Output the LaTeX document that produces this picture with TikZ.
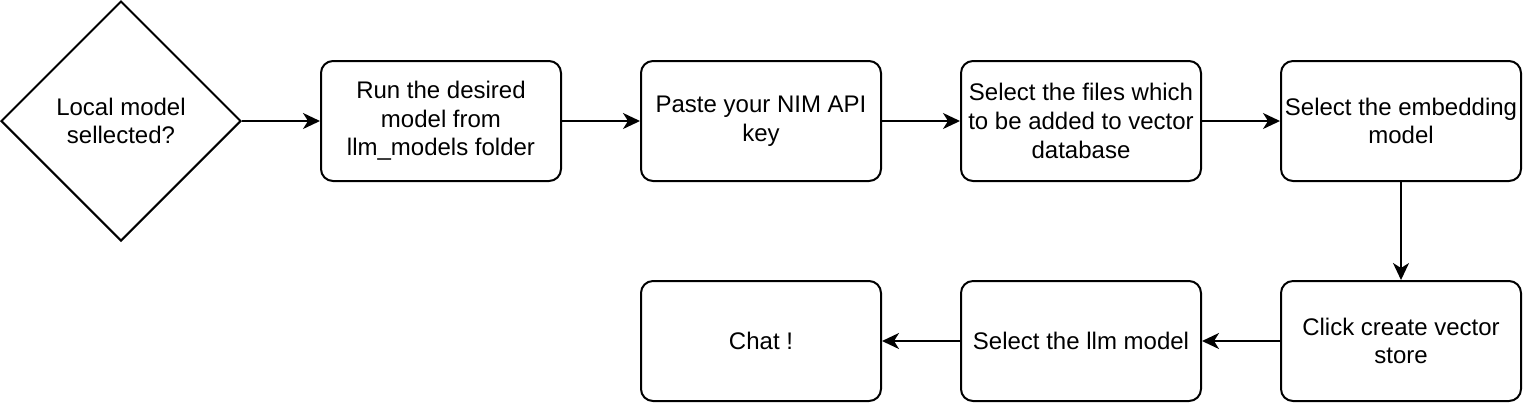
\documentclass[tikz,border=0pt]{standalone}
\usepackage{fontspec}
\setmainfont{Liberation Sans}
\usetikzlibrary{arrows.meta,
                positioning,
                shapes.geometric}
\tikzset{stepbox/.style={draw, line width=1pt, rounded corners=6pt,
                         minimum width=120pt, minimum height=60pt,
                         align=center, inner sep=1pt, font=\fontsize{12}{14.3}\selectfont},
         decision/.style={draw, diamond, line width=1pt, aspect=1,
                          minimum width=120pt, minimum height=120pt, inner sep=0pt,
                          align=center, font=\fontsize{12}{14.3}\selectfont},
         flow/.style={line width=1pt, -{Stealth[length=8.5pt,width=8pt,inset=2.5pt]}}}

\begin{document}
\begin{tikzpicture}[x=0.5pt, y=-0.5pt, node distance=49pt and 39pt]
        \useasboundingbox (0,0) rectangle (1524,404);

        \node[decision] (local) at (121,121) {Local model\\sellected?};
        \node[stepbox] (run) at (441,121) {Run the desired\\model from\\llm\_models folder};
        \node[stepbox, right=of run] (key) {Paste your NIM API\\key};
        \node[stepbox, right=of key] (files) {Select the files which\\to be added to vector\\database};
        \node[stepbox, right=of files] (embed) {Select the embedding\\model};
        \node[stepbox, below=of embed] (store) {Click create vector\\store};
        \node[stepbox, left=of store] (llm) {Select the llm model};
        \node[stepbox, left=of llm] (chat) {Chat !};

        \foreach \a/\b in {local/run, run/key, key/files, files/embed,
                           embed/store, store/llm, llm/chat}
        {
            \draw[flow] (\a) -- (\b);
        }
    \end{tikzpicture}
\end{document}
